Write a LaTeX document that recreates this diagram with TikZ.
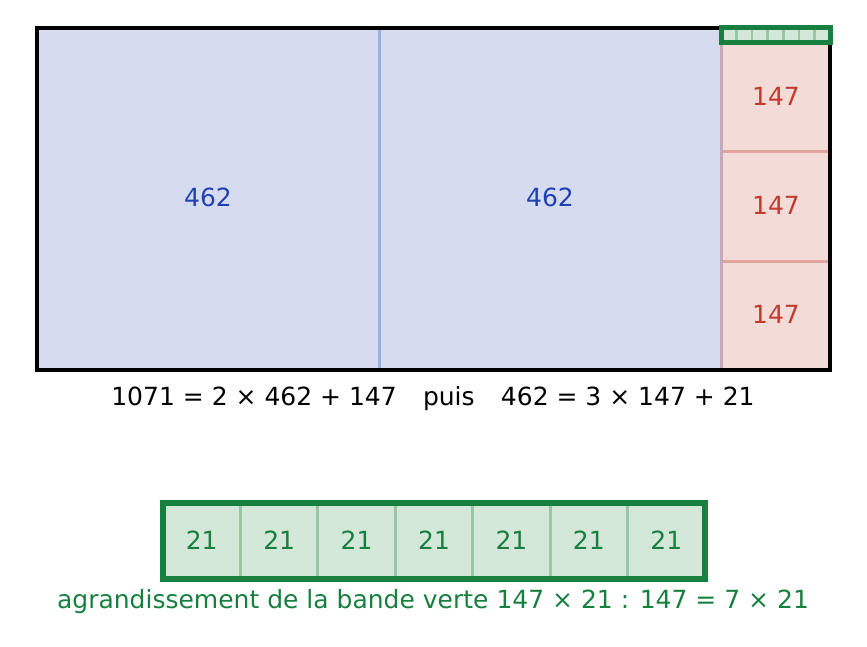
\documentclass[tikz,border=0pt]{standalone}
\usepackage{fontspec}
\setmainfont{DejaVu Sans}
\definecolor{bluefill}{HTML}{D6DCF0}
\definecolor{blueline}{HTML}{9AAEE6}
\definecolor{bluetext}{HTML}{2140B4}
\definecolor{redfill}{HTML}{F3DCD8}
\definecolor{redline}{HTML}{E0A59C}
\definecolor{redtext}{HTML}{C23A2E}
\definecolor{mauveline}{HTML}{C4A8BC}
\definecolor{greenfill}{HTML}{D4E8DA}
\definecolor{greenline}{HTML}{98C8A8}
\definecolor{greendark}{HTML}{17803E}
\begin{document}
\begin{tikzpicture}[x=1pt,y=-1pt,font=\fontsize{25}{30}\selectfont]
            \useasboundingbox (0,0) rectangle (867,647);
            % Blue squares 462
            \draw[fill=bluefill,draw=blueline,line width=3] (37,28) rectangle (379,370);
            \draw[fill=bluefill,draw=blueline,line width=3] (379,28) rectangle (721,370);
            \node[text=bluetext] (b1) at (208,197) {462};
            \node[text=bluetext] (b2) at (550,197) {462};
            % Red squares 147
            \foreach \i/\y in {1/43,2/152,3/261}
                \draw[fill=redfill,draw=redline,line width=3] (721,\y) rectangle (830,\y+109);
            \draw[mauveline,line width=3] (721,28) -- (721,370);
            \foreach \i/\y in {1/96,2/205,3/314}
                \node[text=redtext] (r\i) at (776,\y) {147};
            % Outer border
            \draw[line width=4] (37,28) rectangle (830,370);
            % Green strip 21
            \fill[greenfill] (721,28) rectangle (830,43);
            \foreach \i in {1,...,6}
                \draw[greenline,line width=2.5] (721+\i*15.57,28) -- (721+\i*15.57,43);
            \draw[greendark,line width=5] (721,28) rectangle (830,43);
            \node (cap1) at (433,399) {1071 = 2 × 462 + 147\hspace{1.05em}puis\hspace{1.05em}462 = 3 × 147 + 21};
            % Enlarged strip
            \fill[greenfill] (163,503) rectangle (705,579);
            \foreach \i in {1,...,6}
                \draw[greenline,line width=3] (163+\i*77.43,503) -- (163+\i*77.43,579);
            \foreach \i in {1,...,7}
                \node[text=greendark] (g\i) at (124.3+\i*77.43,540) {21};
            \draw[greendark,line width=5.5] (163,503) rectangle (705,579);
            \node[text=greendark] (cap2) at (433,602) {agrandissement de la bande verte 147 × 21 : 147 = 7 × 21};
        \end{tikzpicture}
\end{document}
